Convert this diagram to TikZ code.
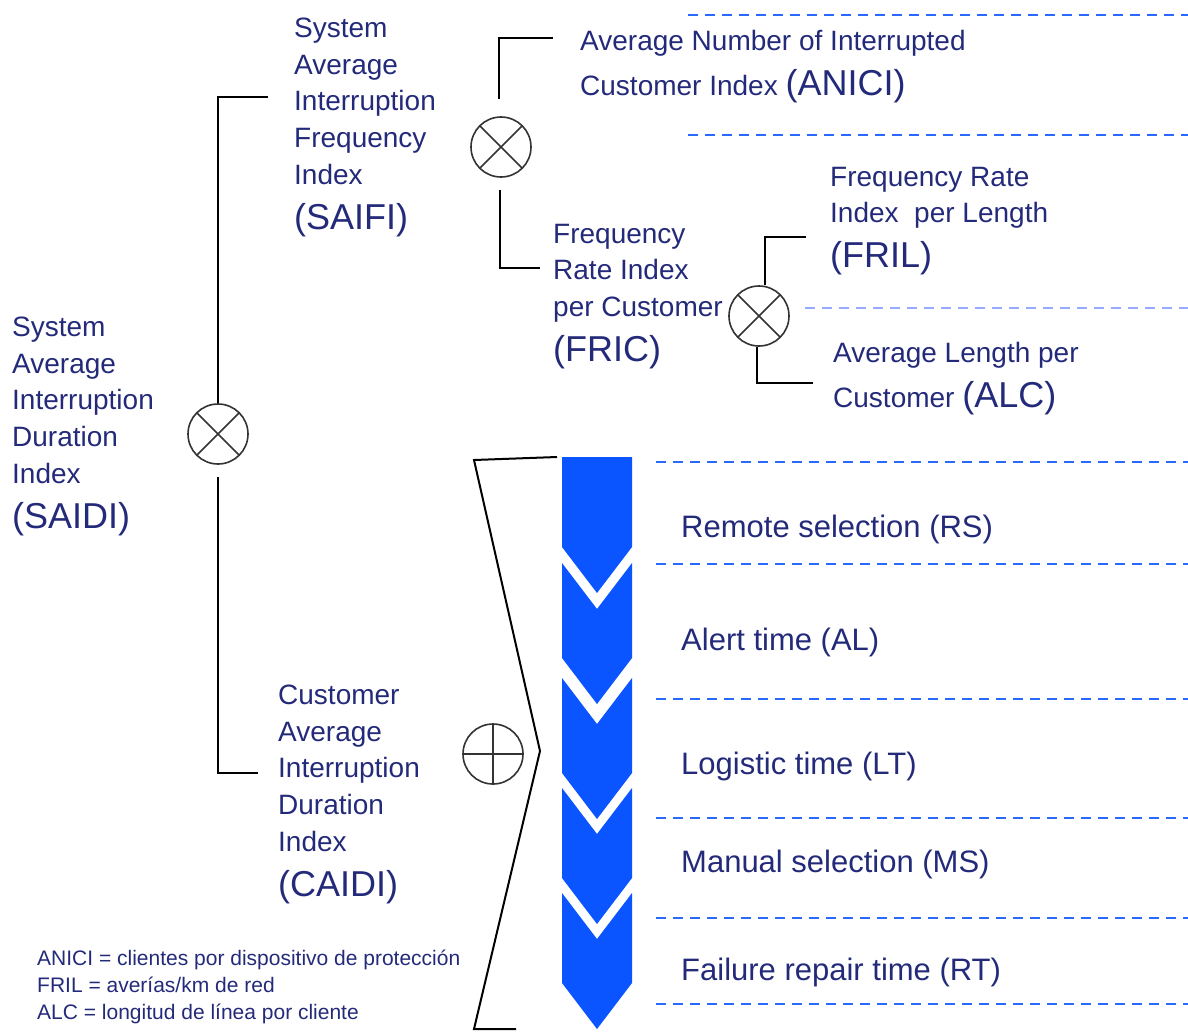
\documentclass[tikz,border=0pt]{standalone}
\usepackage{fontspec}
\setmainfont{Liberation Sans}
\usetikzlibrary{calc}
\definecolor{txtblue}{RGB}{36,42,122}
\definecolor{stepblue}{RGB}{10,85,255}
\definecolor{dashblue}{RGB}{40,105,255}
\definecolor{paleblue}{RGB}{150,170,255}
\newcommand{\bigidx}[1]{{\fontsize{36}{36}\selectfont #1}}

\begin{document}
\begin{tikzpicture}[x=1pt,y=-1pt,
  idx/.style={anchor=north west, inner sep=0pt, align=left, text=txtblue, font=\fontsize{28}{36.7}\selectfont},
  steplbl/.style={anchor=base west, inner sep=0pt, text=txtblue, font=\fontsize{31}{36}\selectfont},
  tree/.style={line width=2.2pt},
  mult/.style={circle, draw=black!80, line width=1.6pt, minimum size=60pt, inner sep=0pt,
    path picture={\draw[black!80, line width=1.6pt]
      (path picture bounding box.north west) -- (path picture bounding box.south east)
      (path picture bounding box.north east) -- (path picture bounding box.south west);}},
  summ/.style={circle, draw=black!80, line width=1.6pt, minimum size=60pt, inner sep=0pt,
    path picture={\draw[black!80, line width=1.6pt]
      (path picture bounding box.north) -- (path picture bounding box.south)
      (path picture bounding box.west) -- (path picture bounding box.east);}},
  sep/.style={dashblue, line width=2.2pt, dash pattern=on 10pt off 7pt}]
    \useasboundingbox (0,0) rectangle (1188,1031);

    % index texts
    \node[idx] (saidi-t) at (12,316.7) {System\\Average\\Interruption\\Duration\\Index\\[8.3pt]\bigidx{(SAIDI)}};
    \node[idx] (saifi-t) at (294,17.7) {System\\Average\\Interruption\\Frequency\\Index\\[8.3pt]\bigidx{(SAIFI)}};
    \node[idx] (caidi-t) at (278,684.7) {Customer\\Average\\Interruption\\Duration\\Index\\[8.3pt]\bigidx{(CAIDI)}};
    \node[idx] (anici-t) at (580,29.7) {Average Number of Interrupted\\[8.3pt]Customer Index \bigidx{(ANICI)}};
    \node[idx] (fric-t) at (553,223.7) {Frequency\\Rate Index\\per Customer\\[8.3pt]\bigidx{(FRIC)}};
    \node[idx] (fril-t) at (830,166.7) {Frequency Rate\\Index\ \ per Length\\[8.3pt]\bigidx{(FRIL)}};
    \node[idx] (alc-t) at (833,341.7) {Average Length per\\[8.3pt]Customer \bigidx{(ALC)}};

    % operators
    \node[mult] (saidi) at (218,434) {};
    \node[mult] (saifi) at (501,147) {};
    \node[mult] (fric) at (759,316) {};
    \node[summ] (caidi) at (493,754) {};

    % tree
    \coordinate (saifi-in) at (268,97);
    \coordinate (caidi-in) at (258,773);
    \coordinate (anici-in) at (553,38);
    \coordinate (fric-in) at (540,268);
    \coordinate (fril-in) at (806,237);
    \coordinate (alc-in) at (813,383);
    \draw[tree] (saidi.north) |- (saifi-in);
    \draw[tree] ([yshift=-12pt]saidi.south) |- (caidi-in);
    \draw[tree] ([xshift=-2pt,yshift=17pt]saifi.north) |- (anici-in);
    \draw[tree] ([xshift=-1pt,yshift=-12pt]saifi.south) |- (fric-in);
    \draw[tree] ([xshift=6pt]fric.north) |- (fril-in);
    \draw[tree] ([xshift=-2pt]fric.south) |- (alc-in);

    % bracket
    \draw[line width=2pt] (557,457) -- (474,460) -- (540,751) -- (474,1029) -- (516,1029);

    % chevron column
    \fill[stepblue] (562,457) -- (632,457) -- (632,547) -- (597,593) -- (562,547) -- cycle;
    \foreach \n/\b in {563/658, 678/773, 788/878, 893/983}
        \fill[stepblue] (562,\n) -- (597,{\n+46}) -- (632,\n) -- (632,\b) -- (597,{\b+46}) -- (562,\b) -- cycle;

    % separators
    \draw[sep] (688,15) -- (1188,15);
    \draw[sep] (688,135) -- (1188,135);
    \draw[sep, paleblue] (805,308) -- (1188,308);
    \foreach \y in {462,564,699,818,918,1004}
        \draw[sep] (656,\y) -- (1188,\y);

    % steps
    \node[steplbl] (rs) at (681,537) {Remote selection (RS)};
    \node[steplbl] (al) at (681,650) {Alert time (AL)};
    \node[steplbl] (lt) at (681,774) {Logistic time (LT)};
    \node[steplbl] (ms) at (681,872) {Manual selection (MS)};
    \node[steplbl] (rt) at (681,980) {Failure repair time (RT)};

    % abbreviations
    \node[anchor=north west, inner sep=0pt, align=left, text=txtblue, font=\fontsize{21}{27}\selectfont] (legend) at (37,950)
        {ANICI = clientes por dispositivo de protección\\FRIL = averías/km de red\\ALC = longitud de línea por cliente};
\end{tikzpicture}
\end{document}
